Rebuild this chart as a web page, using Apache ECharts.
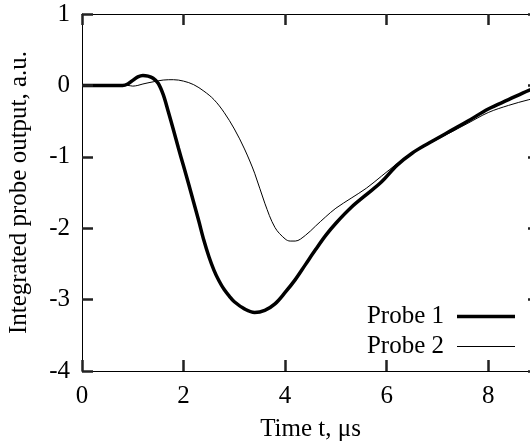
<!DOCTYPE html>
<html>
<head>
<meta charset="utf-8">
<script src="https://cdn.jsdelivr.net/npm/echarts@6/dist/echarts.min.js"></script>
<style>html,body{margin:0;padding:0;background:#fff;}#c{width:530px;height:441px;}</style>
</head>
<body>
<div id="c"></div>
<script>
// Time (µs) and integrated probe outputs (a.u.)
var t1 = [0, 0.8, 0.9, 1.0, 1.1, 1.2, 1.3, 1.4, 1.5, 1.6, 1.7, 1.8, 1.9, 2.0, 2.1, 2.2, 2.3, 2.4, 2.5, 2.6, 2.7, 2.8, 2.9, 3.0, 3.2, 3.4, 3.6, 3.8, 4.0, 4.2, 4.4, 4.6, 4.8, 5.0, 5.3, 5.6, 5.9, 6.2, 6.5, 6.8, 7.2, 7.6, 8.0, 8.4, 8.8, 9.0];
var probe1 = [0, 0, 0.02, 0.07, 0.12, 0.14, 0.13, 0.1, 0.03, -0.13, -0.37, -0.62, -0.88, -1.13, -1.38, -1.64, -1.9, -2.17, -2.4, -2.59, -2.74, -2.86, -2.95, -3.03, -3.13, -3.18, -3.15, -3.06, -2.9, -2.72, -2.51, -2.3, -2.1, -1.93, -1.71, -1.53, -1.35, -1.12, -0.95, -0.82, -0.66, -0.5, -0.33, -0.2, -0.07, -0.02];
var t2 = [0, 0.9, 1.0, 1.1, 1.2, 1.4, 1.6, 1.8, 2.0, 2.2, 2.4, 2.6, 2.8, 3.0, 3.2, 3.4, 3.6, 3.8, 4.0, 4.1, 4.2, 4.4, 4.6, 4.8, 5.0, 5.3, 5.6, 5.9, 6.2, 6.5, 6.8, 7.2, 7.6, 8.0, 8.4, 8.8, 9.0];
var probe2 = [0, 0, -0.01, 0, 0.02, 0.05, 0.075, 0.08, 0.06, 0.01, -0.08, -0.2, -0.38, -0.61, -0.89, -1.23, -1.65, -1.99, -2.15, -2.18, -2.18, -2.1, -1.97, -1.84, -1.72, -1.58, -1.44, -1.27, -1.1, -0.95, -0.83, -0.68, -0.53, -0.38, -0.28, -0.2, -0.17];
var seriesNames = ['Probe 1', 'Probe 2'];
var xName = 'Time t, μs';
var yName = 'Integrated probe output, a.u.';

function zip(a, b) { return a.map(function (v, i) { return [v, b[i]]; }); }
function tick() { return { show: true, inside: true, length: 11, lineStyle: { color: '#222', width: 2.5 } }; }
function line() { return { show: true, onZero: false, lineStyle: { color: '#000', width: 1 } }; }

var font = 'Liberation Serif';
var fs = 25;
var chart = echarts.init(document.getElementById('c'), null, { renderer: 'canvas' });
chart.setOption({
  animation: false,
  backgroundColor: '#fff',
  grid: { left: 82, top: 14, width: 457, height: 357, outerBoundsMode: 'none', containLabel: false },
  legend: {
    data: [
      { name: seriesNames[0], icon: 'path://M0,0 M0,14 M8,5.25h58v3.5h-58z' },
      { name: seriesNames[1], icon: 'path://M0,0 M0,14 M8,6.5h58v1h-58z' }
    ],
    orient: 'vertical', align: 'right', right: 10, top: 299,
    itemWidth: 66, itemHeight: 14, itemGap: 5,
    textStyle: { fontFamily: font, fontSize: fs, color: '#000' }
  },
  xAxis: [{
    type: 'value', min: 0, max: 9, interval: 2, position: 'bottom', z: 10,
    name: xName, nameLocation: 'middle', nameGap: 46,
    nameTextStyle: { fontFamily: font, fontSize: fs, color: '#000' },
    axisLine: line(), axisTick: tick(), splitLine: { show: false },
    axisLabel: { fontFamily: font, fontSize: fs, color: '#000', margin: 13, showMaxLabel: false }
  }, {
    type: 'value', min: 0, max: 9, interval: 2, position: 'top', z: 10,
    axisLine: line(), axisTick: tick(), splitLine: { show: false },
    axisLabel: { show: false }
  }],
  yAxis: [{
    type: 'value', min: -4, max: 1, interval: 1, position: 'left', z: 10,
    name: yName, nameLocation: 'middle', nameGap: 50,
    nameTextStyle: { fontFamily: font, fontSize: fs, color: '#000' },
    axisLine: line(), axisTick: tick(), splitLine: { show: false },
    axisLabel: { fontFamily: font, fontSize: fs, color: '#000', margin: 12 }
  }, {
    type: 'value', min: -4, max: 1, interval: 1, position: 'right', z: 10,
    axisLine: line(), axisTick: tick(), splitLine: { show: false },
    axisLabel: { show: false }
  }],
  series: [{
    name: seriesNames[0], type: 'line', data: zip(t1, probe1),
    smooth: 0.35, symbol: 'none', showSymbol: false,
    lineStyle: { color: '#000', width: 3.5 }, itemStyle: { color: '#000' }, z: 3
  }, {
    name: seriesNames[1], type: 'line', data: zip(t2, probe2),
    smooth: 0.35, symbol: 'none', showSymbol: false,
    lineStyle: { color: '#000', width: 1 }, itemStyle: { color: '#000' }, z: 2
  }]
});
</script>
</body>
</html>
